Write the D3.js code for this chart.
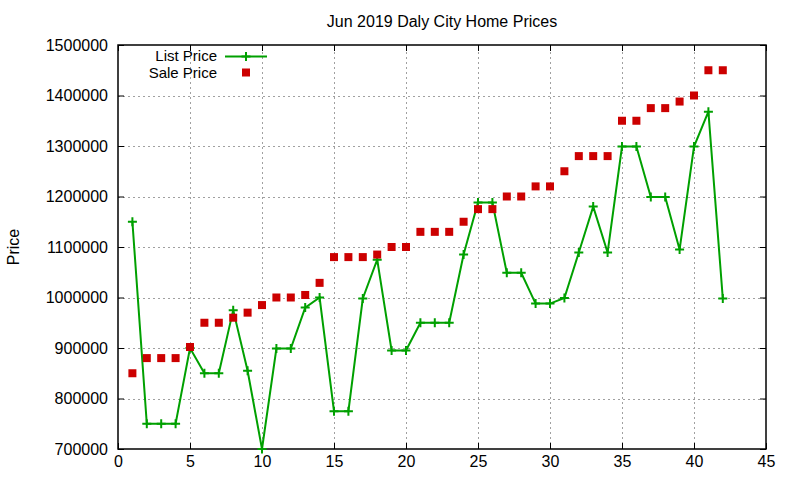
<!DOCTYPE html>
<html>
<head>
<meta charset="utf-8">
<script src="https://cdn.jsdelivr.net/npm/d3@7"></script>
<style>
  body { margin: 0; background: #fff; }
  text { font-family: "Liberation Sans", Arial, sans-serif; fill: #000; }
</style>
</head>
<body>
<div id="chart"></div>
<script>
const houses = d3.range(1, 43);
const listPrice = [
  1150000, 750000, 750000, 750000, 900000, 850000, 850000, 975000, 855000, 700000,
  899000, 899000, 980000, 1000000, 775000, 775000, 998000, 1075000, 895000, 895000,
  950000, 950000, 950000, 1085000, 1188000, 1188000, 1049000, 1049000, 988000, 988000,
  999000, 1089000, 1180000, 1089000, 1299000, 1299000, 1199000, 1199000, 1095000, 1299000,
  1368000, 998000
];
const salePrice = [
  850000, 880000, 880000, 880000, 902000, 950000, 950000, 960000, 970000, 985000,
  1000000, 1000000, 1005000, 1029000, 1080000, 1080000, 1080000, 1085000, 1100000, 1100000,
  1130000, 1130000, 1130000, 1150000, 1175000, 1175000, 1200000, 1200000, 1220000, 1220000,
  1250000, 1280000, 1280000, 1280000, 1350000, 1350000, 1375000, 1375000, 1388000, 1400000,
  1450000, 1450000
];
const xTicks = d3.range(0, 46, 5);
const yTicks = d3.range(700000, 1500001, 100000);

const width = 800;
const height = 480;
const margin = { top: 45, right: 34, bottom: 31, left: 118 };
const green = "#00a000";
const red = "#cc0000";

const x = d3.scaleLinear().domain([0, 45]).range([margin.left, width - margin.right]);
const y = d3.scaleLinear().domain([700000, 1500000]).range([height - margin.bottom, margin.top]);

const svg = d3.select("#chart")
  .append("svg")
  .attr("width", width)
  .attr("height", height);

// grid
const grid = svg.append("g")
  .attr("stroke", "#a0a0a0")
  .attr("stroke-width", 1)
  .attr("stroke-dasharray", "2,3");

grid.selectAll("line.vx")
  .data(xTicks.slice(1, -1))
  .join("line")
  .attr("x1", (d) => Math.round(x(d)) + 0.5)
  .attr("x2", (d) => Math.round(x(d)) + 0.5)
  .attr("y1", y.range()[0])
  .attr("y2", y.range()[1]);

grid.selectAll("line.hy")
  .data(yTicks.slice(1, -1))
  .join("line")
  .attr("y1", (d) => Math.round(y(d)) + 0.5)
  .attr("y2", (d) => Math.round(y(d)) + 0.5)
  .attr("x1", x.range()[0])
  .attr("x2", x.range()[1]);

// axes with inward ticks on all sides
const fmt = d3.format("d");
const axisBottomG = svg.append("g")
  .attr("transform", `translate(0, ${y.range()[0]})`)
  .call(d3.axisBottom(x).tickValues(xTicks).tickSize(-6).tickPadding(7).tickFormat(fmt));
const axisTopG = svg.append("g")
  .attr("transform", `translate(0, ${y.range()[1]})`)
  .call(d3.axisTop(x).tickValues(xTicks).tickSize(-6).tickFormat(""));
const axisLeftG = svg.append("g")
  .attr("transform", `translate(${x.range()[0]}, 0)`)
  .call(d3.axisLeft(y).tickValues(yTicks).tickSize(-6).tickPadding(10).tickFormat(fmt));
const axisRightG = svg.append("g")
  .attr("transform", `translate(${x.range()[1]}, 0)`)
  .call(d3.axisRight(y).tickValues(yTicks).tickSize(-6).tickFormat(""));

[axisBottomG, axisTopG, axisLeftG, axisRightG].forEach((g) => {
  g.select(".domain").remove();
  g.selectAll("line").attr("stroke", "#000");
  g.selectAll("text").attr("font-size", 16).attr("font-family", "Liberation Sans, Arial, sans-serif");
});

svg.append("rect")
  .attr("x", x.range()[0])
  .attr("y", y.range()[1])
  .attr("width", x.range()[1] - x.range()[0])
  .attr("height", y.range()[0] - y.range()[1])
  .attr("fill", "none")
  .attr("stroke", "#000")
  .attr("stroke-width", 1.5);

// list price line + plus markers
const listRows = houses.map((h, i) => ({ h, v: listPrice[i] }));
const saleRows = houses.map((h, i) => ({ h, v: salePrice[i] }));

svg.append("path")
  .datum(listRows)
  .attr("fill", "none")
  .attr("stroke", green)
  .attr("stroke-width", 2)
  .attr("d", d3.line().x((d) => x(d.h)).y((d) => y(d.v)));

const plus = (cx, cy, s) => `M${cx - s},${cy}H${cx + s}M${cx},${cy - s}V${cy + s}`;

svg.append("path")
  .attr("fill", "none")
  .attr("stroke", green)
  .attr("stroke-width", 2)
  .attr("d", listRows.map((d) => plus(x(d.h), y(d.v), 4.5)).join(""));

// sale price squares
svg.append("g")
  .selectAll("rect")
  .data(saleRows)
  .join("rect")
  .attr("x", (d) => x(d.h) - 4)
  .attr("y", (d) => y(d.v) - 4)
  .attr("width", 8)
  .attr("height", 8)
  .attr("fill", red);

// title and axis label
svg.append("text")
  .attr("x", (x.range()[0] + x.range()[1]) / 2)
  .attr("y", 27)
  .attr("text-anchor", "middle")
  .attr("font-size", 16)
  .text("Jun 2019 Daly City Home Prices");

svg.append("text")
  .attr("transform", "translate(19, 247) rotate(-90)")
  .attr("text-anchor", "middle")
  .attr("font-size", 16)
  .text("Price");

// legend
const legend = svg.append("g");
legend.append("text")
  .attr("x", 217)
  .attr("y", 61)
  .attr("text-anchor", "end")
  .attr("font-size", 15)
  .text("List Price");
legend.append("line")
  .attr("x1", 225).attr("x2", 267)
  .attr("y1", 56.5).attr("y2", 56.5)
  .attr("stroke", green).attr("stroke-width", 2);
legend.append("path")
  .attr("stroke", green).attr("stroke-width", 2)
  .attr("d", plus(246, 56.5, 4.5));
legend.append("text")
  .attr("x", 217)
  .attr("y", 78)
  .attr("text-anchor", "end")
  .attr("font-size", 15)
  .text("Sale Price");
legend.append("rect")
  .attr("x", 242).attr("y", 68.5)
  .attr("width", 8).attr("height", 8)
  .attr("fill", red);
</script>
</body>
</html>
